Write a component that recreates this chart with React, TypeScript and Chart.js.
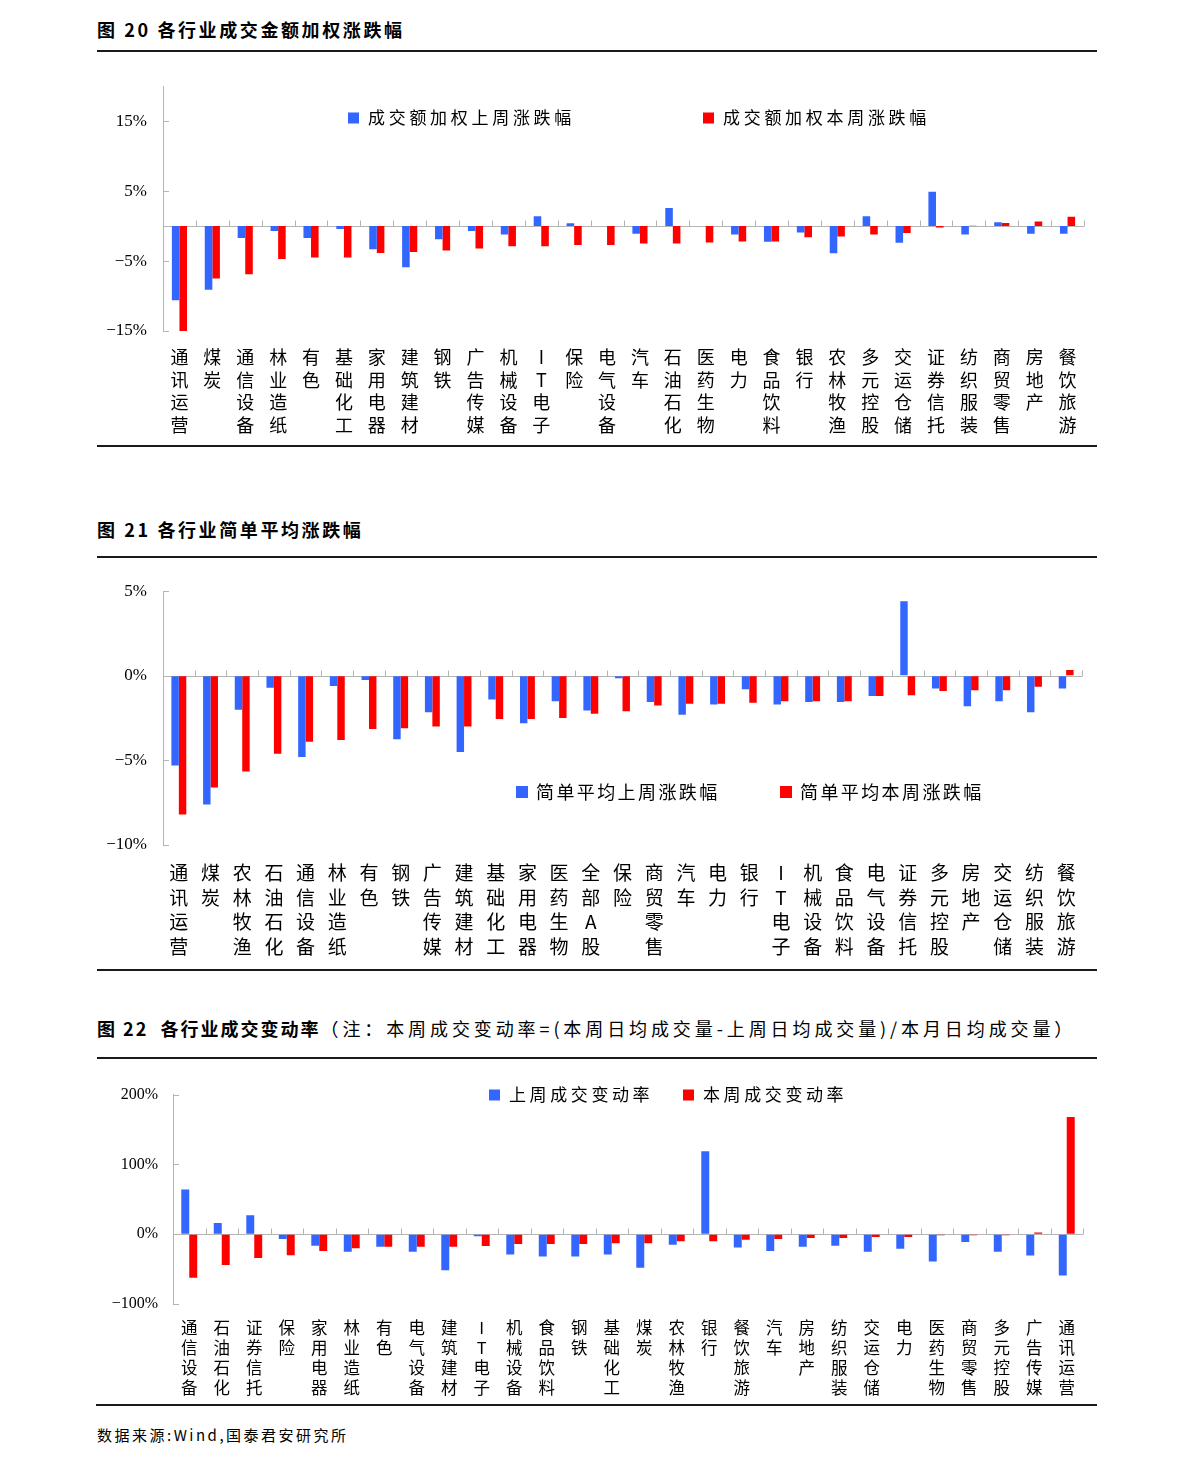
import React, { useEffect, useRef } from 'react';
import { Chart, registerables } from 'chart.js';

Chart.register(...registerables);

const BLUE = '#3366FF';
const RED = '#FF0000';
const AXIS = '#B4B4B4';

// ---------- Chart 1: 成交额加权涨跌幅 ----------
const categories1 = ['通讯运营', '煤炭', '通信设备', '林业造纸', '有色', '基础化工', '家用电器', '建筑建材', '钢铁', '广告传媒', '机械设备', 'IT电子', '保险', '电气设备', '汽车', '石油石化', '医药生物', '电力', '食品饮料', '银行', '农林牧渔', '多元控股', '交运仓储', '证券信托', '纺织服装', '商贸零售', '房地产', '餐饮旅游'];
const lastWeek1 = [-10.6, -9.1, -1.7, -0.7, -1.7, -0.4, -3.3, -5.9, -1.9, -0.7, -1.2, 1.4, 0.4, 0.0, -1.1, 2.6, 0.0, -1.2, -2.25, -0.9, -3.9, 1.4, -2.4, 4.9, -1.2, 0.55, -1.1, -1.1];
const thisWeek1 = [-15.0, -7.5, -6.9, -4.7, -4.5, -4.5, -3.85, -3.7, -3.5, -3.2, -2.9, -2.9, -2.7, -2.7, -2.5, -2.5, -2.35, -2.2, -2.2, -1.6, -1.5, -1.2, -1.0, -0.2, 0.05, 0.45, 0.65, 1.35];
const ticks1 = [-15, -5, 5, 15];
const names1: [string, string] = ['成交额加权上周涨跌幅', '成交额加权本周涨跌幅'];

// ---------- Chart 2: 简单平均涨跌幅 ----------
const categories2 = ['通讯运营', '煤炭', '农林牧渔', '石油石化', '通信设备', '林业造纸', '有色', '钢铁', '广告传媒', '建筑建材', '基础化工', '家用电器', '医药生物', '全部A股', '保险', '商贸零售', '汽车', '电力', '银行', 'IT电子', '机械设备', '食品饮料', '电气设备', '证券信托', '多元控股', '房地产', '交运仓储', '纺织服装', '餐饮旅游'];
const lastWeek2 = [-5.3, -7.6, -2.0, -0.7, -4.8, -0.6, -0.25, -3.75, -2.15, -4.5, -1.4, -2.8, -1.5, -2.05, -0.15, -1.55, -2.3, -1.7, -0.8, -1.7, -1.55, -1.55, -1.2, 4.4, -0.75, -1.8, -1.5, -2.15, -0.75];
const thisWeek2 = [-8.2, -6.6, -5.65, -4.6, -3.9, -3.8, -3.15, -3.1, -3.0, -3.0, -2.55, -2.55, -2.5, -2.25, -2.1, -1.75, -1.65, -1.65, -1.6, -1.5, -1.5, -1.5, -1.2, -1.15, -0.9, -0.85, -0.85, -0.65, 0.35];
const ticks2 = [-10, -5, 0, 5];
const names2: [string, string] = ['简单平均上周涨跌幅', '简单平均本周涨跌幅'];

// ---------- Chart 3: 成交变动率 ----------
const categories3 = ['通信设备', '石油石化', '证券信托', '保险', '家用电器', '林业造纸', '有色', '电气设备', '建筑建材', 'IT电子', '机械设备', '食品饮料', '钢铁', '基础化工', '煤炭', '农林牧渔', '银行', '餐饮旅游', '汽车', '房地产', '纺织服装', '交运仓储', '电力', '医药生物', '商贸零售', '多元控股', '广告传媒', '通讯运营'];
const lastWeek3 = [64, 16, 27, -7, -16.5, -25, -18, -25, -51.5, -3, -29, -32, -32, -29, -48, -15, 119, -19, -24, -18, -16.5, -25, -21, -39, -11, -25, -30.5, -59];
const thisWeek3 = [-62.5, -44, -34, -30, -24, -20, -18, -18, -18, -17, -14, -14, -14, -13, -13, -10, -10, -8, -7, -5.5, -5.5, -4, -4, -1.5, -1.5, -1.5, 2.5, 168];
const ticks3 = [-100, 0, 100, 200];
const names3: [string, string] = ['上周成交变动率', '本周成交变动率'];

type Spec = {
  left: number; top: number; width: number; height: number;
  labels: string[]; a: number[]; b: number[]; names: [string, string];
  min: number; max: number; ticks: number[];
  yWidth: number; xHeight: number; padTop: number; padRight: number;
  catPct: number; labelFont: number; labelLine: number; labelPad: number;
  tickFont: number; tickPad: number;
  legend: { y: number; xs: [number, number]; font: number; spacing: number; box: number; gap: number };
};

const decorPlugin = {
  id: 'decor',
  beforeDatasetsDraw(chart: any) {
    const { ctx, chartArea, scales } = chart;
    const y = scales.y;
    const zy = Math.round(y.getPixelForValue(0)) + 0.5;
    ctx.save();
    ctx.strokeStyle = AXIS;
    ctx.lineWidth = 1;
    ctx.beginPath();
    ctx.moveTo(chartArea.left, zy);
    ctx.lineTo(chartArea.right, zy);
    ctx.stroke();
    ctx.restore();
  },
  afterDraw(chart: any, _args: any, opts: any) {
    const { ctx, chartArea, scales } = chart;
    const x = scales.x;
    const y = scales.y;
    ctx.save();
    ctx.strokeStyle = AXIS;
    ctx.lineWidth = 1;
    ctx.beginPath();
    y.ticks.forEach((t: any) => {
      const py = Math.round(y.getPixelForValue(t.value)) + 0.5;
      ctx.moveTo(chartArea.left, py);
      ctx.lineTo(chartArea.left + 6, py);
    });
    const zy = Math.round(y.getPixelForValue(0)) + 0.5;
    const n = chart.data.labels.length;
    for (let i = 0; i <= n; i++) {
      const px = Math.round(x.getPixelForValue(i - 0.5)) + 0.5;
      ctx.moveTo(px, zy);
      ctx.lineTo(px, zy - 6);
    }
    ctx.stroke();
    chart.data.datasets.forEach((ds: any, i: number) => {
      const sx = opts.xs[i];
      ctx.fillStyle = ds.backgroundColor;
      ctx.fillRect(sx, opts.y - opts.box / 2, opts.box, opts.box);
      ctx.fillStyle = '#000';
      ctx.font = `${opts.font}px "Noto Sans CJK SC"`;
      ctx.textBaseline = 'middle';
      ctx.textAlign = 'left';
      (ctx as any).letterSpacing = opts.spacing + 'px';
      ctx.fillText(ds.label, sx + opts.gap, opts.y);
      (ctx as any).letterSpacing = '0px';
    });
    ctx.restore();
  },
};

function fmt(v: number) {
  return (v < 0 ? '\u2212' + Math.abs(v) : String(v)) + '%';
}

function BarChart({ s }: { s: Spec }) {
  const ref = useRef<HTMLCanvasElement | null>(null);
  useEffect(() => {
    if (!ref.current) return;
    const chart = new Chart(ref.current, {
      type: 'bar',
      data: {
        labels: s.labels.map((l) => l.split('')),
        datasets: [
          { label: s.names[0], data: s.a, backgroundColor: BLUE, barPercentage: 1, categoryPercentage: s.catPct },
          { label: s.names[1], data: s.b, backgroundColor: RED, barPercentage: 1, categoryPercentage: s.catPct },
        ],
      },
      options: {
        responsive: false,
        animation: false,
        devicePixelRatio: 1,
        layout: { padding: { top: s.padTop, right: s.padRight, left: 0, bottom: 0 } },
        plugins: {
          legend: { display: false },
          tooltip: { enabled: false },
          decor: s.legend,
        } as any,
        scales: {
          x: {
            grid: { display: false },
            border: { display: false },
            ticks: {
              autoSkip: false,
              maxRotation: 0,
              minRotation: 0,
              padding: s.labelPad,
              color: '#000',
              font: { family: '"Noto Sans CJK SC"', size: s.labelFont, lineHeight: s.labelLine + 'px' },
            },
            afterFit: (sc: any) => { sc.height = s.xHeight; },
          },
          y: {
            min: s.min,
            max: s.max,
            grid: { display: true, drawOnChartArea: false, drawTicks: false },
            border: { display: true, color: AXIS },
            ticks: {
              padding: s.tickPad,
              color: '#000',
              font: { family: '"Liberation Serif"', size: s.tickFont },
              callback: (v: any) => fmt(Number(v)),
            },
            afterBuildTicks: (sc: any) => { sc.ticks = s.ticks.map((v) => ({ value: v })); },
            afterFit: (sc: any) => { sc.width = s.yWidth; },
          },
        },
      } as any,
      plugins: [decorPlugin],
    });
    return () => chart.destroy();
  }, [s]);
  return (
    <canvas
      ref={ref}
      width={s.width}
      height={s.height}
      style={{ position: 'absolute', left: s.left, top: s.top, width: s.width, height: s.height }}
    />
  );
}

const spec1: Spec = {
  left: 90, top: 60, width: 1010, height: 384,
  labels: categories1, a: lastWeek1, b: thisWeek1, names: names1,
  min: -15, max: 20, ticks: ticks1,
  yWidth: 73, xHeight: 113, padTop: 22, padRight: 16,
  catPct: 0.46, labelFont: 18, labelLine: 22.6, labelPad: 7,
  tickFont: 17, tickPad: 16,
  legend: { y: 58, xs: [258, 613], font: 17, spacing: 3.7, box: 11, gap: 20 },
};

const spec2: Spec = {
  left: 90, top: 565, width: 1010, height: 403,
  labels: categories2, a: lastWeek2, b: thisWeek2, names: names2,
  min: -10, max: 5, ticks: ticks2,
  yWidth: 73, xHeight: 123, padTop: 14, padRight: 18,
  catPct: 0.47, labelFont: 19, labelLine: 24.4, labelPad: 8,
  tickFont: 17, tickPad: 16,
  legend: { y: 227, xs: [426, 690], font: 18, spacing: 2.4, box: 12, gap: 20 },
};

const spec3: Spec = {
  left: 90, top: 1070, width: 1010, height: 333,
  labels: categories3, a: lastWeek3, b: thisWeek3, names: names3,
  min: -100, max: 200, ticks: ticks3,
  yWidth: 83, xHeight: 99, padTop: 16, padRight: 17,
  catPct: 0.49, labelFont: 16.5, labelLine: 20, labelPad: 6,
  tickFont: 16, tickPad: 15,
  legend: { y: 25, xs: [399, 593], font: 17, spacing: 3.6, box: 11, gap: 20 },
};

const titleStyle: React.CSSProperties = {
  position: 'absolute',
  left: 97,
  fontFamily: '"Noto Sans CJK SC"',
  fontSize: 18,
  lineHeight: '24px',
  fontWeight: 700,
  letterSpacing: 2.6,
  color: '#000',
  whiteSpace: 'pre',
};

function Rule({ top, left = 97, width = 1000 }: { top: number; left?: number; width?: number }) {
  return <div style={{ position: 'absolute', left, top, width, height: 2, background: '#1a1a1a' }} />;
}

export default function App() {
  return (
    <div style={{ width: 1175, height: 1448 }}>
      <div style={{ ...titleStyle, top: 17 }}>图 20 各行业成交金额加权涨跌幅</div>
      <Rule top={50} />
      <BarChart s={spec1} />
      <Rule top={445} />

      <div style={{ ...titleStyle, top: 517 }}>图 21 各行业简单平均涨跌幅</div>
      <Rule top={556} />
      <BarChart s={spec2} />
      <Rule top={969} />

      <div style={{ ...titleStyle, top: 1016, letterSpacing: 2 }}>
        {'图 22  各行业成交变动率'}
        <span style={{ fontWeight: 400, letterSpacing: 3.9 }}>（注：本周成交变动率=(本周日均成交量-上周日均成交量)/本月日均成交量）</span>
      </div>
      <Rule top={1057} />
      <BarChart s={spec3} />
      <Rule top={1404} left={96} width={1001} />

      <div
        style={{
          position: 'absolute',
          left: 97,
          top: 1424,
          fontFamily: '"Noto Sans CJK SC"',
          fontSize: 15,
          lineHeight: '22px',
          letterSpacing: 2.5,
          color: '#000',
          whiteSpace: 'pre',
        }}
      >
        数据来源:Wind,国泰君安研究所
      </div>
    </div>
  );
}
